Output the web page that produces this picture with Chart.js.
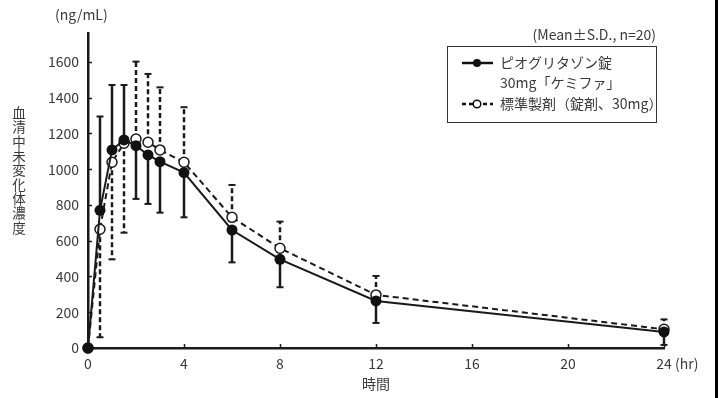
<!DOCTYPE html>
<html>
<head>
<meta charset="utf-8">
<script src="https://cdn.jsdelivr.net/npm/chart.js@4"></script>
<style>
    html, body { margin: 0; padding: 0; background: #fff; }
    #wrap { position: relative; width: 726px; height: 398px; }
    #edge { position: absolute; left: 715px; top: 0; width: 3px; height: 398px; background: #000; }
</style>
</head>
<body>
<div id="wrap">
    <canvas id="chartpk" width="726" height="398"></canvas>
    <div id="edge"></div>
</div>
<script>
// 時間 (hr)
var hours = [0, 0.5, 1, 1.5, 2, 2.5, 3, 4, 6, 8, 12, 24];

// ピオグリタゾン錠30mg「ケミファ」
var testMean = [0, 770, 1108, 1164, 1132, 1080, 1042, 981, 660, 496, 263, 90];
var testSD = [0, 525, 363, 307, 298, 274, 285, 250, 181, 156, 123, 73];

// 標準製剤（錠剤、30mg）
var refMean = [0, 664, 1039, 1145, 1169, 1151, 1108, 1039, 731, 558, 297, 105];
var refSD = [0, 604, 543, 500, 433, 382, 350, 308, 181, 149, 106, 55];

// error bar direction of test series (1 = up, -1 = down), reference goes the other way
var testBarDir = [0, 1, 1, 1, -1, -1, -1, -1, -1, -1, -1, -1];

var yTicks = [0, 200, 400, 600, 800, 1000, 1200, 1400, 1600];
var xTicks = [0, 4, 8, 12, 16, 20, 24];

var seriesNames = ['ピオグリタゾン錠', '30mg「ケミファ」', '標準製剤（錠剤、30mg）'];
var yTitle = '血清中未変化体濃度';

var fontFamily = '"Noto Sans CJK JP", "Noto Sans", sans-serif';
var textColor = '#3a3a3a';

function toPoints(xs, ys) {
    var out = [];
    for (var i = 0; i < xs.length; i++) {
        out.push({ x: xs[i], y: ys[i] });
    }
    return out;
}

function drawBar(ctx, x, y1, y2, dashed) {
    ctx.save();
    ctx.strokeStyle = '#1a1a1a';
    ctx.lineWidth = 2.5;
    if (dashed) ctx.setLineDash([5, 3]);
    ctx.beginPath();
    ctx.moveTo(x, y1);
    ctx.lineTo(x, y2);
    ctx.stroke();
    ctx.setLineDash([]);
    ctx.lineWidth = 2;
    ctx.beginPath();
    ctx.moveTo(x - 3.5, y2);
    ctx.lineTo(x + 3.5, y2);
    ctx.stroke();
    ctx.restore();
}

var errorBars = {
    id: 'errorBars',
    beforeDatasetsDraw: function (chart) {
        var ctx = chart.ctx;
        var xs = chart.scales.x, ys = chart.scales.y;
        for (var i = 0; i < hours.length; i++) {
            if (testSD[i] <= 0) continue;
            var px = xs.getPixelForValue(hours[i]);
            var d = testBarDir[i];
            drawBar(ctx, px, ys.getPixelForValue(testMean[i]), ys.getPixelForValue(testMean[i] + d * testSD[i]), false);
            drawBar(ctx, px, ys.getPixelForValue(refMean[i]), ys.getPixelForValue(refMean[i] - d * refSD[i]), true);
        }
    }
};

var decorations = {
    id: 'decorations',
    afterDraw: function (chart) {
        var ctx = chart.ctx;
        var xs = chart.scales.x, ys = chart.scales.y;
        var area = chart.chartArea;

        ctx.save();
        // 目盛り (inner ticks)
        ctx.strokeStyle = '#1a1a1a';
        ctx.lineWidth = 1.5;
        for (var i = 1; i < yTicks.length; i++) {
            var py = Math.round(ys.getPixelForValue(yTicks[i])) + 0.5;
            ctx.beginPath();
            ctx.moveTo(area.left, py);
            ctx.lineTo(area.left + 4, py);
            ctx.stroke();
        }
        for (var i = 1; i < xTicks.length; i++) {
            var px = Math.round(xs.getPixelForValue(xTicks[i])) + 0.5;
            ctx.beginPath();
            ctx.moveTo(px, area.bottom);
            ctx.lineTo(px, area.bottom - 4);
            ctx.stroke();
        }

        // texts
        ctx.fillStyle = textColor;
        ctx.font = '14px ' + fontFamily;
        ctx.textBaseline = 'middle';
        ctx.textAlign = 'left';
        ctx.fillText('(ng/mL)', 55, 15);
        ctx.fillText('(hr)', 675, 364);
        ctx.textAlign = 'right';
        ctx.fillText('(Mean±S.D., n=20)', 656, 35);
        ctx.textAlign = 'center';
        ctx.fillText('時間', 376, 384);

        // 縦書き title
        ctx.font = '13.5px ' + fontFamily;
        for (var i = 0; i < yTitle.length; i++) {
            ctx.fillText(yTitle[i], 19, 113 + i * 14.3);
        }

        // legend
        ctx.strokeStyle = '#333';
        ctx.lineWidth = 1;
        ctx.strokeRect(447.5, 46.5, 209, 76);

        ctx.strokeStyle = '#111';
        ctx.lineWidth = 2.5;
        ctx.beginPath();
        ctx.moveTo(462, 63);
        ctx.lineTo(493, 63);
        ctx.stroke();
        ctx.fillStyle = '#111';
        ctx.beginPath();
        ctx.arc(477, 63, 4, 0, Math.PI * 2);
        ctx.fill();

        ctx.setLineDash([4, 3]);
        ctx.beginPath();
        ctx.moveTo(462, 104);
        ctx.lineTo(493, 104);
        ctx.stroke();
        ctx.setLineDash([]);
        ctx.fillStyle = '#fff';
        ctx.lineWidth = 1.5;
        ctx.beginPath();
        ctx.arc(477, 104, 3.8, 0, Math.PI * 2);
        ctx.fill();
        ctx.stroke();

        ctx.fillStyle = textColor;
        ctx.font = '14px ' + fontFamily;
        ctx.textAlign = 'left';
        ctx.fillText(seriesNames[0], 500, 63);
        ctx.fillText(seriesNames[1], 500, 83);
        ctx.fillText(seriesNames[2], 500, 104);
        ctx.restore();
    }
};

var chartArea = document.getElementById('chartpk').getContext('2d');

var chartpk = new Chart(chartArea, {
    type: 'line',
    data: {
        datasets: [{
            label: seriesNames[0] + seriesNames[1],
            data: toPoints(hours, testMean),
            borderColor: '#1a1a1a',
            borderWidth: 2,
            pointRadius: 5.5,
            pointBorderWidth: 0,
            pointBackgroundColor: '#111',
            pointBorderColor: '#111',
            tension: 0,
            clip: false
        }, {
            label: seriesNames[2],
            data: toPoints(hours, refMean),
            borderColor: '#1a1a1a',
            borderWidth: 2,
            borderDash: [6, 4],
            pointRadius: 5,
            pointBorderWidth: 1.5,
            pointBackgroundColor: '#fff',
            pointBorderColor: '#1a1a1a',
            tension: 0,
            clip: false
        }]
    },
    options: {
        responsive: false,
        animation: false,
        layout: {
            padding: { top: 33, right: 62, left: 0, bottom: 0 }
        },
        plugins: {
            legend: { display: false },
            tooltip: { enabled: false }
        },
        scales: {
            x: {
                type: 'linear',
                min: 0,
                max: 24,
                afterBuildTicks: function (scale) {
                    scale.ticks = xTicks.map(function (v) { return { value: v }; });
                },
                afterFit: function (scale) { scale.height = 50; },
                grid: { display: false, drawTicks: false },
                border: { display: true, color: '#1a1a1a', width: 2.5 },
                ticks: {
                    padding: 7,
                    maxRotation: 0,
                    color: textColor,
                    font: { family: fontFamily, size: 14 },
                    callback: function (v) { return String(v); }
                }
            },
            y: {
                min: 0,
                max: 1762,
                afterBuildTicks: function (scale) {
                    scale.ticks = yTicks.map(function (v) { return { value: v }; });
                },
                afterFit: function (scale) { scale.width = 88; },
                grid: { display: false, drawTicks: false },
                border: { display: true, color: '#1a1a1a', width: 2.5 },
                ticks: {
                    padding: 9,
                    color: textColor,
                    font: { family: fontFamily, size: 14 },
                    callback: function (v) { return String(v); }
                }
            }
        }
    },
    plugins: [errorBars, decorations]
});
</script>
</body>
</html>
